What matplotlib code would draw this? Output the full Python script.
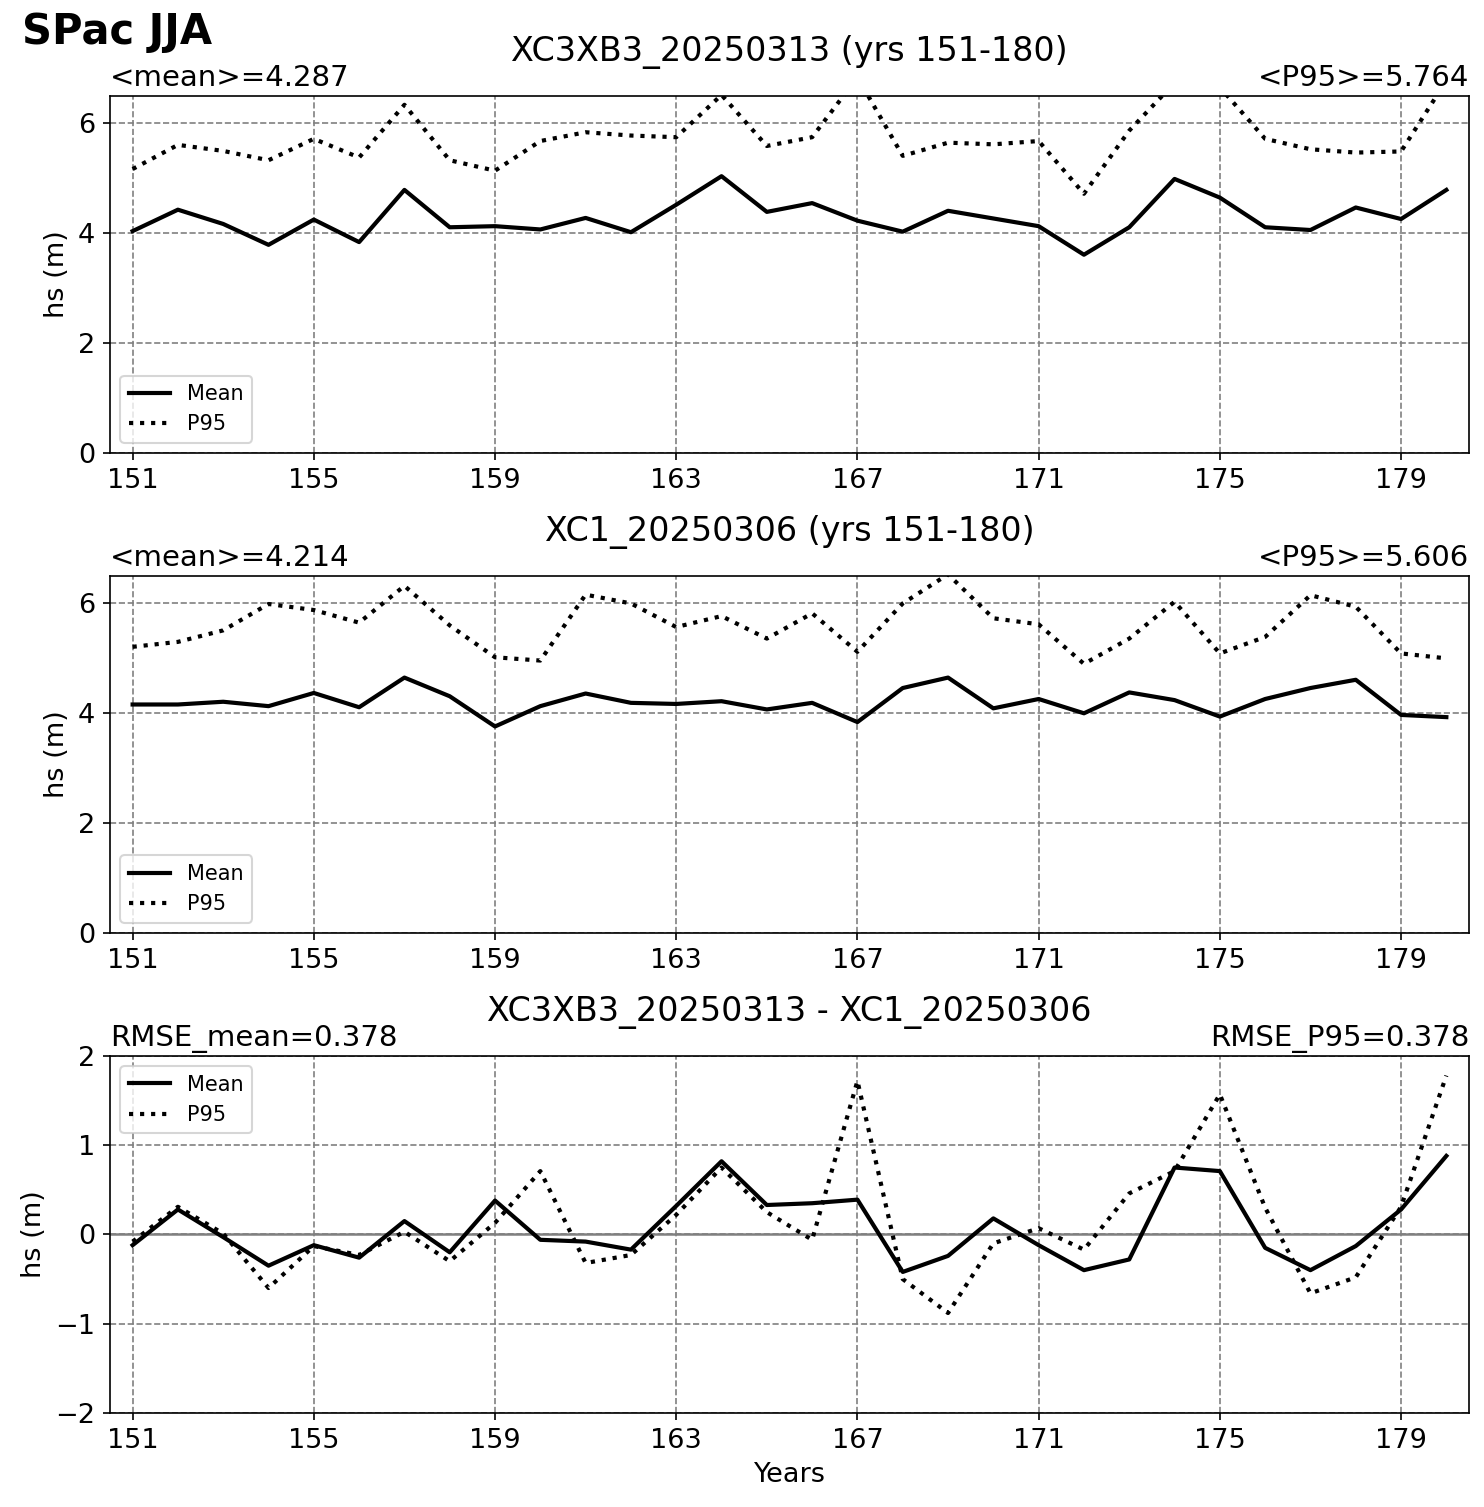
import numpy as np
import matplotlib
matplotlib.use("Agg")
import matplotlib.pyplot as plt

years = list(range(151, 181))

mean_a = [4.04, 4.43, 4.17, 3.79, 4.25, 3.84, 4.79, 4.11, 4.13, 4.07,
          4.28, 4.02, 4.52, 5.04, 4.39, 4.55, 4.23, 4.03, 4.41, 4.27,
          4.13, 3.61, 4.11, 4.99, 4.65, 4.11, 4.06, 4.47, 4.26, 4.79]
p95_a = [5.17, 5.61, 5.50, 5.33, 5.72, 5.38, 6.34, 5.33, 5.14, 5.68,
         5.84, 5.78, 5.75, 6.52, 5.59, 5.75, 6.84, 5.41, 5.65, 5.62,
         5.68, 4.72, 5.87, 6.74, 6.66, 5.72, 5.53, 5.47, 5.49, 6.78]

mean_b = [4.16, 4.16, 4.21, 4.13, 4.37, 4.11, 4.65, 4.31, 3.76, 4.13,
          4.36, 4.19, 4.17, 4.22, 4.07, 4.19, 3.84, 4.46, 4.65, 4.09,
          4.26, 4.00, 4.38, 4.24, 3.94, 4.26, 4.46, 4.61, 3.97, 3.93]
p95_b = [5.21, 5.30, 5.51, 5.99, 5.88, 5.65, 6.32, 5.60, 5.02, 4.96,
         6.16, 6.00, 5.57, 5.77, 5.36, 5.82, 5.12, 6.00, 6.53, 5.73,
         5.62, 4.90, 5.36, 6.03, 5.09, 5.39, 6.15, 5.94, 5.09, 5.00]

diff_mean = [-0.12, 0.28, -0.03, -0.35, -0.12, -0.26, 0.15, -0.20, 0.38, -0.06,
             -0.08, -0.17, 0.32, 0.82, 0.33, 0.35, 0.39, -0.42, -0.24, 0.18,
             -0.12, -0.40, -0.28, 0.75, 0.71, -0.15, -0.40, -0.13, 0.28, 0.88]
diff_p95 = [-0.08, 0.31, 0.01, -0.60, -0.13, -0.23, 0.03, -0.30, 0.13, 0.71,
            -0.32, -0.23, 0.22, 0.75, 0.25, -0.06, 1.72, -0.50, -0.88, -0.10,
            0.07, -0.17, 0.46, 0.71, 1.57, 0.30, -0.66, -0.48, 0.31, 1.78]

titles = ["XC3XB3_20250313 (yrs 151-180)", "XC1_20250306 (yrs 151-180)",
          "XC3XB3_20250313 - XC1_20250306"]
left_labels = ["<mean>=4.287", "<mean>=4.214", "RMSE_mean=0.378"]
right_labels = ["<P95>=5.764", "<P95>=5.606", "RMSE_P95=0.378"]
xticks = [151, 155, 159, 163, 167, 171, 175, 179]

fig = plt.figure(figsize=(1484 / 150, 1507 / 150), dpi=150)

bottoms = [0.6994, 0.3809, 0.0624]
series = [(mean_a, p95_a), (mean_b, p95_b), (diff_mean, diff_p95)]

for i in range(3):
    ax = fig.add_axes([0.0741, bottoms[i], 0.9158, 0.2369])
    m, p = series[i]
    if i == 2:
        ax.axhline(0, color="gray", lw=1.2, zorder=1)
    ax.plot(years, m, color="black", lw=2, ls="-", label="Mean")
    ax.plot(years, p, color="black", lw=2, ls=":", label="P95")
    ax.set_xlim(150.5, 180.5)
    if i < 2:
        ax.set_ylim(0, 6.5)
        ax.set_yticks([0, 2, 4, 6])
        ax.legend(loc="lower left", fontsize=10)
    else:
        ax.set_ylim(-2, 2)
        ax.set_yticks([-2, -1, 0, 1, 2])
        ax.legend(loc="upper left", fontsize=10)
        ax.set_xlabel("Years", fontsize=13)
    ax.set_xticks(xticks)
    ax.tick_params(labelsize=13)
    ax.grid(True, ls="--", color="gray", lw=0.8)
    ax.set_ylabel("hs (m)", fontsize=13)
    ax.annotate(titles[i], xy=(0.5, 1.0), xycoords="axes fraction",
                xytext=(0, 13), textcoords="offset points",
                ha="center", va="bottom", fontsize=16)
    ax.set_title(left_labels[i], fontsize=14, loc="left", pad=5)
    ax.set_title(right_labels[i], fontsize=14, loc="right", pad=5)

fig.text(0.015, 0.993, "SPac JJA", fontsize=20, fontweight="bold", ha="left", va="top")

fig.savefig("out.png", dpi=150)
